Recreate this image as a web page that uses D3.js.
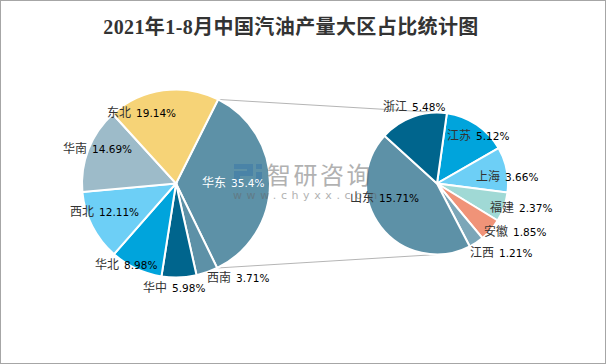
<!DOCTYPE html>
<html>
<head>
<meta charset="utf-8">
<script src="https://cdnjs.cloudflare.com/ajax/libs/d3/7.8.5/d3.min.js"></script>
<style>
  html, body { margin: 0; padding: 0; background: #fff; }
  svg { display: block; }
  text { font-family: "DejaVu Sans", "Noto Sans CJK SC", sans-serif; font-size: 10.5px; }
</style>
</head>
<body>
<div id="chart"></div>
<script>
// main pie, clockwise from the slice that gets broken out
const regions = ['华东', '西南', '华中', '华北', '西北', '华南', '东北'];
const regionValues = [35.4, 3.71, 5.98, 8.98, 12.11, 14.69, 19.14];
const regionColors = ['#5d91a7', '#5d91a7', '#00658d', '#00a4dc', '#6dcff6', '#9dbbc9', '#f6d377'];

// breakdown of 华东, clockwise from 江苏
const provinces = ['江苏', '上海', '福建', '安徽', '江西', '山东', '浙江'];
const provinceValues = [5.12, 3.66, 2.37, 1.85, 1.21, 15.71, 5.48];
const provinceColors = ['#00a4dc', '#6dcff6', '#a0d9d5', '#f09378', '#7ba6b8', '#5d91a7', '#00658d'];

const width = 606, height = 364;
const rad = Math.PI / 180;

const svg = d3.select('#chart').append('svg')
  .attr('width', width)
  .attr('height', height);

svg.append('rect')
  .attr('x', 0.5).attr('y', 0.5)
  .attr('width', width - 1).attr('height', height - 1)
  .attr('fill', '#fff')
  .attr('stroke', '#a6a6a6');

svg.append('text')
  .attr('x', 291).attr('y', 34)
  .attr('text-anchor', 'middle')
  .style('font-family', '"Liberation Serif", "Noto Sans CJK SC", serif')
  .style('font-size', '20px')
  .style('font-weight', 'bold')
  .style('letter-spacing', '0.4px')
  .attr('fill', '#333')
  .text('2021年1-8月中国汽油产量大区占比统计图');

function drawPie(values, colors, opt) {
  const pie = d3.pie().sort(null).startAngle(opt.start).endAngle(opt.start + 2 * Math.PI);
  const arc = d3.arc().innerRadius(0).outerRadius(opt.r);
  svg.append('g')
    .attr('transform', `translate(${opt.cx},${opt.cy})`)
    .selectAll('path')
    .data(pie(values))
    .enter().append('path')
    .attr('d', arc)
    .attr('fill', (d, i) => colors[i])
    .attr('stroke', '#fff')
    .attr('stroke-width', 2);
}

const mainPie = { cx: 176, cy: 183.5, r: 94, start: 26.6 * rad };
const subPie = { cx: 437, cy: 183.5, r: 71, start: 8 * rad };

// connector lines from the 华东 slice edges to top and bottom of the second pie
const mainArcs = d3.pie().sort(null).startAngle(mainPie.start).endAngle(mainPie.start + 2 * Math.PI)(regionValues);
const pt = (p, a) => [p.cx + p.r * Math.sin(a), p.cy - p.r * Math.cos(a)];
const links = [
  [pt(mainPie, mainArcs[0].startAngle), pt(subPie, 0)],
  [pt(mainPie, mainArcs[0].endAngle), pt(subPie, Math.PI)]
];
svg.selectAll('line.link')
  .data(links)
  .enter().append('line')
  .attr('class', 'link')
  .attr('x1', d => d[0][0]).attr('y1', d => d[0][1])
  .attr('x2', d => d[1][0]).attr('y2', d => d[1][1])
  .attr('stroke', '#b5b5b5')
  .attr('stroke-width', 1);

drawPie(regionValues, regionColors, mainPie);
drawPie(provinceValues, provinceColors, subPie);

// watermark
const mark = svg.append('g').attr('fill', '#666').attr('opacity', 0.5);
mark.append('text').attr('x', 267).attr('y', 184)
  .style('font-size', '24px').style('letter-spacing', '2.5px').text('智研咨询');
mark.append('text').attr('x', 233).attr('y', 199)
  .style('font-size', '11px').style('letter-spacing', '4.6px').text('www.chyxx.com');
const logo = svg.append('g').attr('fill', '#2f6fa8').attr('opacity', 0.4);
logo.append('path').attr('d', 'M234 164H253V176H240V185H234V171H247V169H234Z');
logo.append('path').attr('d', 'M256 164H262V169H256ZM256 172H262V185H256Z');

// label positions (left edge, baseline)
const regionLabelPos = [[202, 187], [207, 282], [143, 292], [95, 269], [70, 216], [63, 153], [107, 117]];
const provinceLabelPos = [[447, 140], [476, 181], [490, 212], [484, 236], [470, 257], [350, 202], [383, 111]];

function drawLabels(names, values, pos, whiteIdx) {
  const t = svg.append('g').selectAll('text')
    .data(names)
    .enter().append('text')
    .attr('x', (d, i) => pos[i][0])
    .attr('y', (d, i) => pos[i][1])
    .attr('fill', (d, i) => i === whiteIdx ? '#fff' : '#000');
  t.append('tspan')
    .style('font-size', '12px')
    .attr('fill', (d, i) => i === whiteIdx ? '#fff' : '#333')
    .text(d => d);
  t.append('tspan')
    .attr('dx', 5)
    .text((d, i) => values[i] + '%');
}
drawLabels(regions, regionValues, regionLabelPos, 0);
drawLabels(provinces, provinceValues, provinceLabelPos, -1);
</script>
</body>
</html>
